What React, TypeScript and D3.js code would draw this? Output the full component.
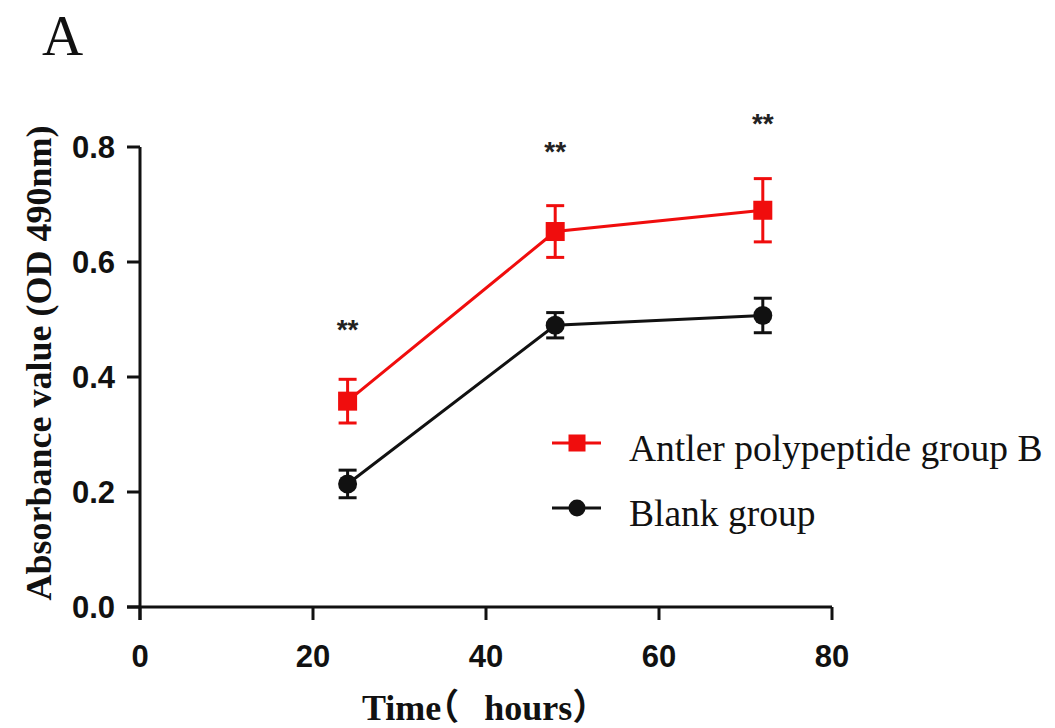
import React from "react";
import * as d3 from "d3";

const hours = [24, 48, 72];
const antlerMean = [0.358, 0.653, 0.69];
const antlerErr = [0.038, 0.045, 0.055];
const blankMean = [0.214, 0.49, 0.507];
const blankErr = [0.024, 0.022, 0.03];
const sigLabels = ["**", "**", "**"];
const sigY = [0.47, 0.78, 0.827];
const xTicks = [0, 20, 40, 60, 80];
const yTicks = [0, 0.2, 0.4, 0.6, 0.8];
const legendItems = ["Antler polypeptide group B", "Blank group"];

const W = 1055;
const H = 728;
const x = d3.scaleLinear().domain([0, 80]).range([140, 832]);
const y = d3.scaleLinear().domain([0, 0.8]).range([607, 147]);

const RED = "#f00d0d";
const BLACK = "#111";
const SERIF = "Liberation Serif, Times New Roman, serif";
const SANS = "Liberation Sans, Arial, sans-serif";

export default function App() {
  const line = d3
    .line<number>()
    .x((_, i) => x(hours[i]))
    .y((v) => y(v));

  const series = [
    { mean: antlerMean, err: antlerErr, color: RED, shape: "square" },
    { mean: blankMean, err: blankErr, color: BLACK, shape: "circle" },
  ];

  const marker = (shape: string, cx: number, cy: number, color: string) =>
    shape === "square" ? (
      <rect x={cx - 9.5} y={cy - 9.5} width={19} height={19} fill={color} />
    ) : (
      <circle cx={cx} cy={cy} r={9.5} fill={color} />
    );

  return (
    <svg width={W} height={H} style={{ position: "absolute", left: 0, top: 0, background: "#fff" }}>
      <text x={42} y={55} fontFamily={SERIF} fontSize={57} fill="#111">
        A
      </text>

      {/* axes */}
      <line x1={x(0)} x2={x(0)} y1={y(0.8)} y2={620} stroke={BLACK} strokeWidth={3} />
      <line x1={127} x2={x(80)} y1={y(0)} y2={y(0)} stroke={BLACK} strokeWidth={3} />
      {yTicks.map((t) => (
        <g key={"y" + t}>
          <line x1={127} x2={x(0)} y1={y(t)} y2={y(t)} stroke={BLACK} strokeWidth={3} />
          <text
            x={115}
            y={y(t)}
            dy="0.36em"
            textAnchor="end"
            fontFamily={SANS}
            fontWeight="bold"
            fontSize={31}
            fill="#111"
          >
            {d3.format(".1f")(t)}
          </text>
        </g>
      ))}
      {xTicks.map((t) => (
        <g key={"x" + t}>
          <line x1={x(t)} x2={x(t)} y1={y(0)} y2={620} stroke={BLACK} strokeWidth={3} />
          <text
            x={x(t)}
            y={667}
            textAnchor="middle"
            fontFamily={SANS}
            fontWeight="bold"
            fontSize={31}
            fill="#111"
          >
            {t}
          </text>
        </g>
      ))}

      <text
        transform={`translate(51,${(y(0) + y(0.8)) / 2 - 14}) rotate(-90)`}
        textAnchor="middle"
        fontFamily={SERIF}
        fontWeight="bold"
        fontSize={36}
        fill="#111"
      >
        Absorbance value (OD 490nm)
      </text>
      <text
        x={362}
        y={720}
        fontFamily={SERIF + ", Noto Sans CJK SC"}
        fontWeight="bold"
        fontSize={36}
        wordSpacing={16}
        style={{ fontFeatureSettings: '"halt"' }}
        fill="#111"
      >
        Time（ hours）
      </text>

      {/* series */}
      {series.map((s, si) => (
        <g key={si}>
          <path d={line(s.mean) || ""} fill="none" stroke={s.color} strokeWidth={3} />
          {s.mean.map((m, i) => {
            const cx = x(hours[i]);
            const top = y(m + s.err[i]);
            const bot = y(m - s.err[i]);
            return (
              <g key={i}>
                <line x1={cx} x2={cx} y1={top} y2={bot} stroke={s.color} strokeWidth={3} />
                <line x1={cx - 9} x2={cx + 9} y1={top} y2={top} stroke={s.color} strokeWidth={3} />
                <line x1={cx - 9} x2={cx + 9} y1={bot} y2={bot} stroke={s.color} strokeWidth={3} />
                {marker(s.shape, cx, y(m), s.color)}
              </g>
            );
          })}
        </g>
      ))}

      {/* significance marks */}
      {sigLabels.map((l, i) => (
        <text
          key={"s" + i}
          x={x(hours[i])}
          y={y(sigY[i]) + 2}
          textAnchor="middle"
          fontFamily={SANS}
          fontWeight="bold"
          fontSize={28}
          fill="#222"
        >
          {l}
        </text>
      ))}

      {/* legend */}
      {legendItems.map((label, i) => {
        const s = series[i];
        const ly = 443 + i * 65;
        return (
          <g key={label}>
            <line x1={552} x2={601} y1={ly} y2={ly} stroke={s.color} strokeWidth={3} />
            {s.shape === "square" ? (
              <rect x={568.5} y={ly - 8.5} width={17} height={17} fill={s.color} />
            ) : (
              <circle cx={577} cy={ly} r={8.5} fill={s.color} />
            )}
            <text x={629} y={ly + 18} fontFamily={SERIF} fontSize={37.5} fill="#111">
              {label}
            </text>
          </g>
        );
      })}
    </svg>
  );
}
